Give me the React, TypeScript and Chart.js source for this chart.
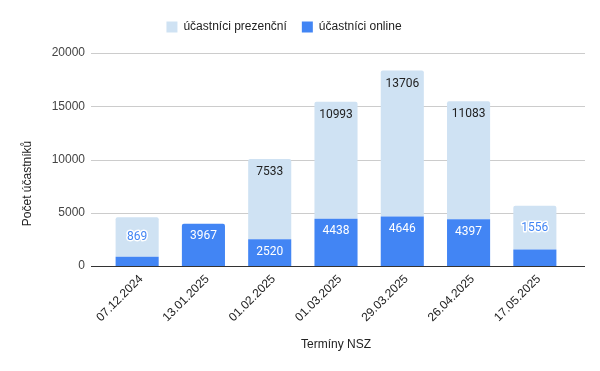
import React, { useEffect, useRef } from "react";
import { Chart, registerables } from "chart.js";

Chart.register(...registerables);

const categories = ["07.12.2024", "13.01.2025", "01.02.2025", "01.03.2025", "29.03.2025", "26.04.2025", "17.05.2025"];
const onlineValues = [869, 3967, 2520, 4438, 4646, 4397, 1556];
const presentValues = [3700, 0, 7533, 10993, 13706, 11083, 4100];
const yTicks = [0, 5000, 10000, 15000, 20000];

const LIGHT = "#cfe2f3";
const BLUE = "#4285f4";
const FONT = "Arial, 'Liberation Sans'";

const legendPad = {
  id: "legendPad",
  beforeUpdate(chart: any) {
    const lg = chart.legend;
    if (lg && !lg._patched) {
      const f = lg.fit.bind(lg);
      lg.fit = function () {
        f();
        this.height += 10;
      };
      lg._patched = true;
    }
  },
};

const labelPlugin = {
  id: "segLabels",
  afterDatasetsDraw(chart: any) {
    const ctx = chart.ctx;
    const mOn = chart.getDatasetMeta(0);
    const mPr = chart.getDatasetMeta(1);
    ctx.save();
    ctx.font = "12px Roboto";
    ctx.textAlign = "center";
    ctx.textBaseline = "middle";
    for (let i = 0; i < categories.length; i++) {
      const bOn = mOn.data[i];
      const bPr = mPr.data[i];
      const hOn = bOn.base - bOn.y;
      const small = hOn < 20;
      if (presentValues[i] > 0 && !small) {
        ctx.fillStyle = "#212121";
        ctx.fillText(String(presentValues[i]), bPr.x, bPr.y + 13);
      }
      if (!small) {
        ctx.fillStyle = "#ffffff";
        ctx.fillText(String(onlineValues[i]), bOn.x, bOn.y + 12.5);
      } else {
        const y = (bPr.y + bPr.base) / 2;
        ctx.lineWidth = 3;
        ctx.strokeStyle = "#ffffff";
        ctx.lineJoin = "round";
        ctx.strokeText(String(onlineValues[i]), bOn.x, y);
        ctx.fillStyle = BLUE;
        ctx.fillText(String(onlineValues[i]), bOn.x, y);
      }
    }
    ctx.restore();
  },
};

const gridExt = {
  id: "gridExt",
  beforeDatasetsDraw(chart: any) {
    const ctx = chart.ctx;
    const y = chart.scales.y;
    const a = chart.chartArea;
    ctx.save();
    ctx.lineWidth = 1;
    for (const t of yTicks) {
      const py = Math.round(y.getPixelForValue(t)) + 0.5;
      ctx.strokeStyle = t === 0 ? "#333333" : "#cccccc";
      ctx.beginPath();
      ctx.moveTo(a.left - 13, py);
      ctx.lineTo(a.right + 17, py);
      ctx.stroke();
    }
    ctx.restore();
  },
};

const yTitle = {
  id: "yTitle",
  afterDraw(chart: any) {
    const ctx = chart.ctx;
    const a = chart.chartArea;
    const cy = (a.top + a.bottom) / 2 + 24;
    ctx.save();
    ctx.translate(28, cy);
    ctx.rotate(-Math.PI / 2);
    ctx.font = "12px " + FONT;
    ctx.fillStyle = "#222222";
    ctx.textAlign = "center";
    ctx.textBaseline = "middle";
    ctx.fillText("Počet účastníků", 0, 0);
    ctx.restore();
  },
};

export default function App() {
  const ref = useRef<HTMLCanvasElement | null>(null);
  useEffect(() => {
    document.body.style.margin = "0";
    const c = ref.current;
    if (!c) return;
    const chart = new Chart(c, {
      type: "bar",
      data: {
        labels: categories,
        datasets: [
          {
            label: "účastníci online",
            data: onlineValues,
            backgroundColor: BLUE,
            borderWidth: 0,
            borderSkipped: false,
            borderRadius: (ctx: any) => (presentValues[ctx.dataIndex] === 0 ? { topLeft: 2, topRight: 2, bottomLeft: 0, bottomRight: 0 } : 0),
            barPercentage: 0.65,
            categoryPercentage: 1,
          },
          {
            label: "účastníci prezenční",
            data: presentValues,
            backgroundColor: LIGHT,
            borderWidth: 0,
            borderSkipped: false,
            borderRadius: { topLeft: 2, topRight: 2, bottomLeft: 0, bottomRight: 0 },
            barPercentage: 0.65,
            categoryPercentage: 1,
          },
        ],
      },
      options: {
        responsive: true,
        maintainAspectRatio: false,
        animation: false,
        layout: { padding: { left: 0, right: 32, top: 6, bottom: 19 } },
        plugins: {
          legend: {
            position: "top",
            reverse: true,
            labels: {
              boxWidth: 11,
              boxHeight: 11,
              padding: 15,
              color: "#222222",
              font: { family: FONT, size: 12 },
            },
          },
          tooltip: { enabled: false },
        },
        scales: {
          x: {
            stacked: true,
            grid: { display: false, drawTicks: false },
            border: { display: false },
            ticks: {
              minRotation: 45,
              maxRotation: 45,
              labelOffset: 4,
              color: "#222222",
              font: { family: FONT, size: 12 },
              padding: 6,
            },
            title: {
              display: true,
              text: "Termíny NSZ",
              color: "#222222",
              font: { family: FONT, size: 12 },
              padding: { top: 4, bottom: 0 },
            },
            afterFit: (s: any) => {
              s.height = 86;
            },
          },
          y: {
            stacked: true,
            min: 0,
            max: 20000,
            afterBuildTicks: (s: any) => {
              s.ticks = yTicks.map((v) => ({ value: v }));
            },
            grid: { display: false },
            border: { display: false },
            ticks: {
              color: "#444444",
              padding: 11,
              font: { family: FONT, size: 12 },
              callback: (v: any) => String(v),
            },
            afterFit: (s: any) => {
              s.width = 104;
            },
          },
        },
      },
      plugins: [legendPad, gridExt, labelPlugin, yTitle],
    });
    return () => chart.destroy();
  }, []);
  return (
    <div style={{ width: 600, height: 371, position: "relative", background: "#fff" }}>
      <canvas ref={ref} />
    </div>
  );
}
